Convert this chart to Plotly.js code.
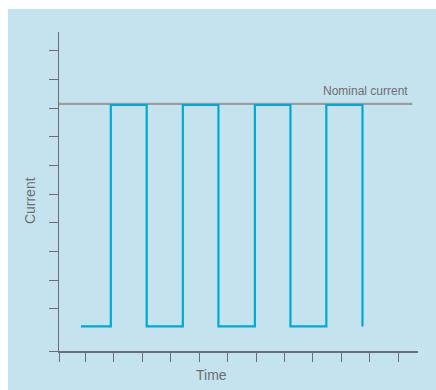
<!DOCTYPE html>
<html>
<head>
<meta charset="utf-8">
<script src="https://cdn.plot.ly/plotly-3.0.1.min.js"></script>
<style>
  html, body { margin: 0; padding: 0; background: #ffffff; }
  #chart { position: absolute; left: 8px; top: 9px; width: 428px; height: 381px; }
</style>
</head>
<body>
<div id="chart"></div>
<script>
// Square-wave current (switch times and levels)
const switchTimes = [-0.15, 0.90, 2.16, 3.43, 4.68, 5.96, 7.21, 8.47, 9.74];
const currentLevels = [-0.607, 7.115, -0.607, 7.115, -0.607, 7.115, -0.607, 7.115, -0.607];

// Nominal current reference line
const nominalTimes = [-0.92, 11.49];
const nominalLevels = [7.154, 7.154];
const nominalLabel = 'Nominal current';

// Axis ticks (no labels)
const xTickVals = [-0.92, 0, 1, 2, 3, 4, 5, 6, 7, 8, 9, 10, 11];
const yTickVals = [-1.465, 0, 1, 2, 3, 4, 5, 6, 7, 8, 9];
const xTitle = 'Time';
const yTitle = 'Current';

const axisGray = '#6d6e71';
const font = 'Liberation Sans, Arial, Helvetica, sans-serif';

const traces = [
  {
    x: nominalTimes, y: nominalLevels, type: 'scatter', mode: 'lines',
    line: { color: '#9c9d9f', width: 2.3 }, hoverinfo: 'skip', showlegend: false
  },
  {
    x: switchTimes, y: currentLevels, type: 'scatter', mode: 'lines',
    line: { color: '#00a9d3', width: 2.2, shape: 'hv' }, hoverinfo: 'skip', showlegend: false
  }
];

const layout = {
  width: 428, height: 381,
  margin: { l: 51, r: 18, t: 23, b: 39, pad: 0 },
  paper_bgcolor: '#c5e3ee',
  plot_bgcolor: 'rgba(0,0,0,0)',
  showlegend: false,
  xaxis: {
    range: [-0.92, 11.69], showgrid: false, zeroline: false,
    showline: true, linecolor: axisGray, linewidth: 1.5,
    ticks: 'outside', ticklen: 9, tickwidth: 1, tickcolor: axisGray,
    tickmode: 'array', tickvals: xTickVals, showticklabels: false, fixedrange: true
  },
  yaxis: {
    range: [-1.465, 9.66], showgrid: false, zeroline: false,
    showline: true, linecolor: axisGray, linewidth: 1.5,
    ticks: 'outside', ticklen: 9, tickwidth: 1, tickcolor: axisGray,
    tickmode: 'array', tickvals: yTickVals, showticklabels: false, fixedrange: true
  },
  annotations: [
    {
      text: nominalLabel, x: 11.40, y: 7.61, xref: 'x', yref: 'y',
      xanchor: 'right', yanchor: 'middle', showarrow: false,
      font: { family: font, size: 12, color: axisGray }
    },
    {
      text: xTitle, x: 0.426, y: -0.0737, xref: 'paper', yref: 'paper',
      xanchor: 'center', yanchor: 'middle', showarrow: false,
      font: { family: font, size: 14, color: axisGray }
    },
    {
      text: yTitle, x: -0.0808, y: 0.473, xref: 'paper', yref: 'paper',
      xanchor: 'center', yanchor: 'middle', showarrow: false, textangle: -90,
      font: { family: font, size: 14, color: axisGray }
    }
  ]
};

Plotly.newPlot('chart', traces, layout, { displayModeBar: false, staticPlot: true });
</script>
</body>
</html>
